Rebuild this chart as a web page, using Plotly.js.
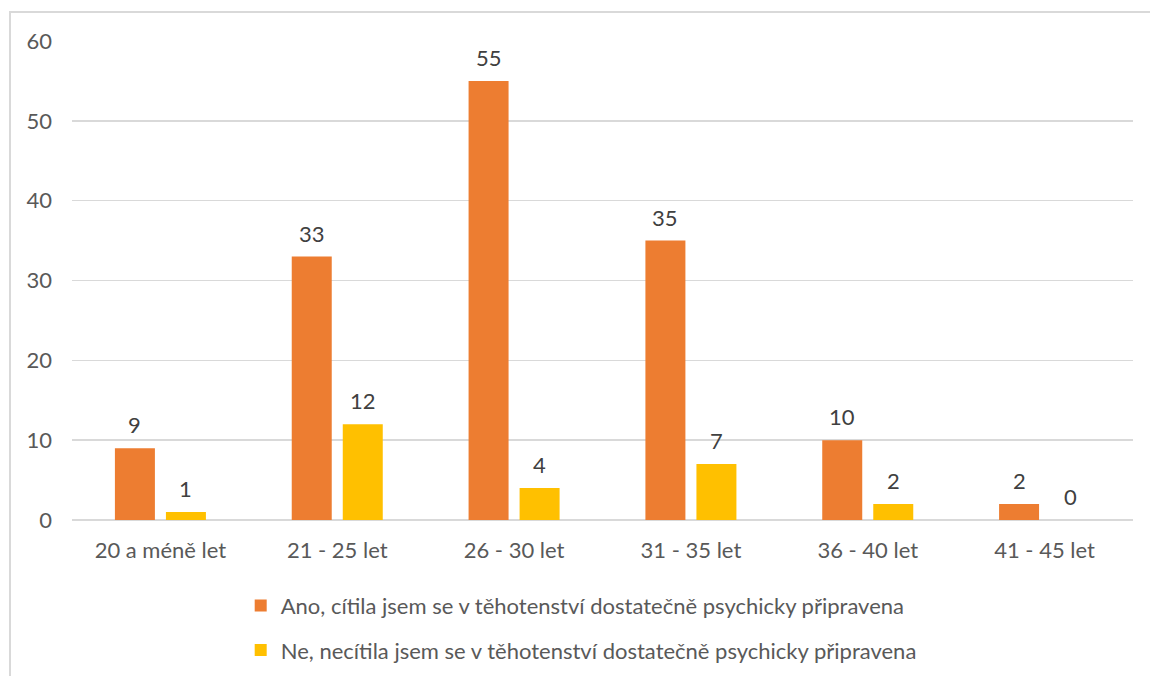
<!DOCTYPE html>
<html>
<head>
<meta charset="utf-8">
<script src="https://cdn.plot.ly/plotly-3.0.1.min.js"></script>
<style>
  html, body { margin: 0; padding: 0; background: #ffffff; }
  #wrap { position: relative; width: 1150px; height: 676px; overflow: hidden; }
  #chart { width: 1150px; height: 676px; }
  #frame { position: absolute; left: 9px; top: 11px; width: 1160px; height: 700px;
           border-top: 2px solid #d9d9d9; border-left: 2px solid #d9d9d9; pointer-events: none; }
</style>
</head>
<body>
<div id="wrap">
  <div id="chart"></div>
  <div id="frame"></div>
</div>
<script>
const categories = ["20 a méně let", "21 - 25 let", "26 - 30 let", "31 - 35 let", "36 - 40 let", "41 - 45 let"];
const seriesNames = [
  "Ano, cítila jsem se v těhotenství dostatečně psychicky připravena",
  "Ne, necítila jsem se v těhotenství dostatečně psychicky připravena"
];
const anoValues = [9, 33, 55, 35, 10, 2];
const neValues = [1, 12, 4, 7, 2, 0];
const yTicks = [0, 10, 20, 30, 40, 50, 60];

const colors = ["#ED7D31", "#FFC000"];
const fontFamily = "Lato, 'Open Sans', sans-serif";
const fontSize = 22;
const bargap = 0.423;
const barOffset = (1 - bargap) / 4; // centre of each bar within its category

const traces = [anoValues, neValues].map((vals, i) => ({
  type: "bar",
  name: seriesNames[i],
  x: categories,
  y: vals,
  marker: { color: colors[i] },
  legendgroup: "g" + i,
  hoverinfo: "x+y"
}));

const annotations = [];
[anoValues, neValues].forEach((vals, s) => {
  vals.forEach((v, i) => {
    annotations.push({
      x: i + (s === 0 ? -barOffset : barOffset),
      y: v,
      xref: "x", yref: "y",
      text: String(v),
      showarrow: false,
      yanchor: "bottom",
      yshift: 8,
      font: { family: fontFamily, size: fontSize, color: "#404040" }
    });
  });
});

const layout = {
  width: 1150,
  height: 676,
  paper_bgcolor: "#ffffff",
  plot_bgcolor: "#ffffff",
  margin: { l: 72, r: 17, t: 41, b: 156, autoexpand: false },
  barmode: "group",
  bargap: bargap,
  bargroupgap: 0.216,
  font: { family: fontFamily, size: fontSize, color: "#595959" },
  xaxis: {
    type: "category",
    showgrid: false,
    showline: false,
    zeroline: false,
    ticks: "",
    automargin: false,
    ticklabelstandoff: 15,
    tickfont: { family: fontFamily, size: fontSize, color: "#595959" }
  },
  yaxis: {
    range: [0, 60],
    tickvals: yTicks,
    ticktext: yTicks.map(String),
    showgrid: true,
    gridcolor: "#d9d9d9",
    gridwidth: 1.5,
    zeroline: true,
    zerolinecolor: "#d9d9d9",
    zerolinewidth: 1.5,
    showline: false,
    ticks: "",
    automargin: false,
    ticklabelstandoff: 19,
    tickfont: { family: fontFamily, size: fontSize, color: "#595959" }
  },
  showlegend: true,
  legend: {
    orientation: "v",
    x: 0.159,
    xanchor: "left",
    y: -0.135,
    yanchor: "top",
    traceorder: "grouped",
    tracegroupgap: 13,
    font: { family: fontFamily, size: fontSize, color: "#595959" },
    bgcolor: "rgba(0,0,0,0)"
  },
  annotations: annotations
};

Plotly.newPlot("chart", traces, layout, { displayModeBar: false, staticPlot: true });
</script>
</body>
</html>
